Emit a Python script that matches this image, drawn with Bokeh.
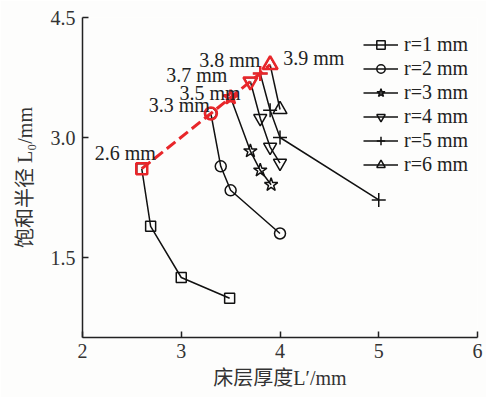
from bokeh.plotting import figure
from bokeh.models import Legend, LegendItem, ColumnDataSource, FixedTicker, Range1d
from bokeh.core.properties import value
from bokeh.embed import file_html
from bokeh.resources import INLINE

# ---- data ----
series_names = ["r=1 mm", "r=2 mm", "r=3 mm", "r=4 mm", "r=5 mm", "r=6 mm"]
r1_x = [2.6, 2.69, 3.0, 3.49]
r1_y = [2.61, 1.89, 1.25, 0.99]
r2_x = [3.3, 3.4, 3.5, 4.0]
r2_y = [3.3, 2.64, 2.34, 1.8]
r3_x = [3.5, 3.7, 3.8, 3.91]
r3_y = [3.5, 2.83, 2.59, 2.41]
r4_x = [3.7, 3.8, 3.9, 4.0]
r4_y = [3.7, 3.24, 2.88, 2.68]
r5_x = [3.8, 3.9, 4.0, 5.0]
r5_y = [3.8, 3.34, 3.0, 2.22]
r6_x = [3.9, 4.0]
r6_y = [3.91, 3.35]
sat_labels = ["2.6 mm", "3.3 mm", "3.5 mm", "3.7 mm", "3.8 mm", "3.9 mm"]
x_ticks = [2, 3, 4, 5, 6]
y_ticks = [1.5, 3.0, 4.5]

# ---- styles ----
markers = ["square", "circle", "star", "inverted_triangle", "cross", "triangle"]
sizes = [10, 11, 14, 13, 14, 14]
lbl_align = ["right", "right", "right", "right", "right", "left"]
lbl_dx = [14, -1, 10, -23, 0, 13]
lbl_dy = [-16, -9, -5, -7, -14, -7]
RED = "#e8262a"
SERIF = "'Liberation Serif', 'Noto Sans CJK SC'"

xs = [r1_x, r2_x, r3_x, r4_x, r5_x, r6_x]
ys = [r1_y, r2_y, r3_y, r4_y, r5_y, r6_y]

p = figure(width=486, height=397, output_backend="svg", toolbar_location=None,
           x_range=Range1d(2, 6), y_range=Range1d(0.5, 4.5),
           min_border_left=82, min_border_right=9, min_border_top=17, min_border_bottom=60)
p.background_fill_color = "#fdfdfc"
p.border_fill_color = "#fdfdfc"
p.outline_line_color = None
p.xgrid.visible = False
p.ygrid.visible = False

for ax in (p.xaxis[0], p.yaxis[0]):
    ax.major_tick_in = 6
    ax.major_tick_out = 0
    ax.minor_tick_line_color = None
    ax.axis_line_width = 1.5
    ax.major_tick_line_width = 1.5
    ax.axis_line_color = "#222222"
    ax.major_tick_line_color = "#222222"
    ax.major_label_text_font = SERIF
    ax.major_label_text_font_size = "20px"
    ax.major_label_text_color = "#333333"
    ax.axis_label_text_font = SERIF
    ax.axis_label_text_font_size = "20px"
    ax.axis_label_text_font_style = "normal"
    ax.axis_label_text_color = "#333333"

p.xaxis.ticker = FixedTicker(ticks=x_ticks)
p.yaxis.ticker = FixedTicker(ticks=y_ticks)
p.yaxis.major_label_overrides = {1.5: "1.5", 3.0: "3.0", 4.5: "4.5"}
p.xaxis.axis_label = "床层厚度L′/mm"
p.yaxis.axis_label = "饱和半径 L₀/mm"
p.xaxis.major_label_standoff = 6
p.yaxis.major_label_standoff = 7
p.xaxis.axis_label_standoff = 6
p.yaxis.axis_label_standoff = 12

items = []
for i in range(6):
    src = ColumnDataSource(dict(x=xs[i], y=ys[i]))
    ln = p.line("x", "y", source=src, line_color="#111111", line_width=1.5)
    sc = p.scatter("x", "y", source=src, marker=markers[i], size=sizes[i],
                   line_color="#111111", line_width=1.5, fill_alpha=0)
    items.append(LegendItem(label=series_names[i], renderers=[ln, sc]))

first_x = [x[0] for x in xs]
first_y = [y[0] for y in ys]
p.line(first_x, first_y, line_color=RED, line_width=3, line_dash="11 5")
for i in range(6):
    p.scatter([first_x[i]], [first_y[i]], marker=markers[i], size=sizes[i] + 1,
              line_color=RED, line_width=2.5, fill_color="white", fill_alpha=0.0)
    p.text([first_x[i]], [first_y[i]], text=[sat_labels[i]],
           text_font=value("Liberation Serif"), text_font_size="20px",
           text_color="#222222", text_align=lbl_align[i], text_baseline="alphabetic",
           x_offset=lbl_dx[i], y_offset=lbl_dy[i])

legend = Legend(items=items, location=(281, 161))
legend.background_fill_alpha = 0
legend.border_line_color = None
legend.padding = 0
legend.margin = 0
legend.spacing = 1
legend.label_height = 21
legend.glyph_height = 21
legend.glyph_width = 35
legend.label_standoff = 6
legend.label_text_font = "Liberation Serif"
legend.label_text_font_size = "20px"
legend.label_text_color = "#222222"
p.add_layout(legend)

open("out.html", "w").write(file_html(p, INLINE))
